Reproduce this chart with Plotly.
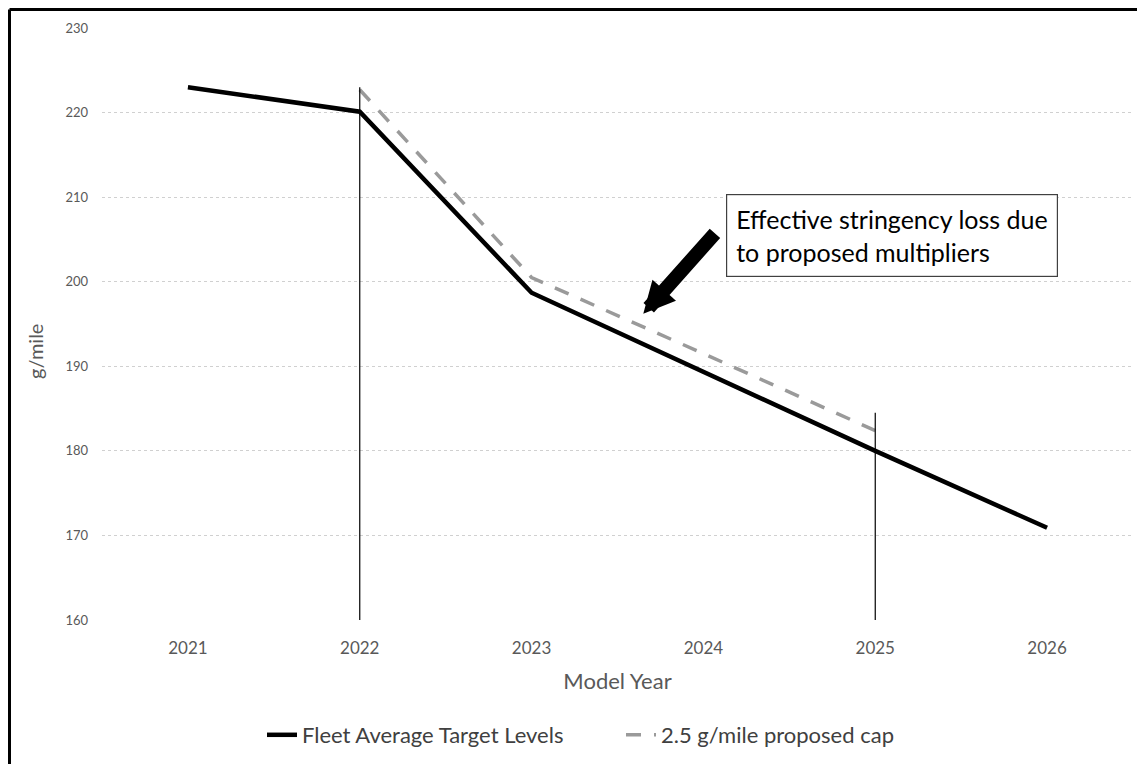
import plotly.graph_objects as go

years = ["2021", "2022", "2023", "2024", "2025", "2026"]
fleet_avg = [223.0, 220.1, 198.7, 189.3, 180.0, 170.9]
cap_years = ["2022", "2023", "2024", "2025"]
cap_values = [222.7, 200.5, 191.5, 182.4]
y_ticks = [160, 170, 180, 190, 200, 210, 220, 230]
marker_years = ["2022", "2025"]
marker_tops = [223.0, 184.5]

FONT = "Lato"
GRAY = "#595959"
W, H = 1145, 764
ML, MR, MT, MB = 94, 20, 20, 152
PW, PH = W - ML - MR, H - MT - MB

fig = go.Figure()
fig.add_trace(go.Scatter(
    x=years, y=fleet_avg, mode="lines", name="Fleet Average Target Levels",
    line=dict(color="black", width=4.5),
))
fig.add_trace(go.Scatter(
    x=cap_years, y=cap_values, mode="lines", name="2.5 g/mile proposed cap",
    line=dict(color="#9a9a9a", width=3.5, dash="15px,13px"),
))

for yr, top in zip(marker_years, marker_tops):
    xi = years.index(yr)
    fig.add_shape(type="line", xref="x", yref="y", x0=xi, x1=xi, y0=y_ticks[0], y1=top,
                  line=dict(color="black", width=1.2), layer="above")

# outer border (top and left edges of the figure)
bx = (1.5 - ML) / PW
by = 1 + (MT - 1.5) / PH
fig.add_shape(type="line", xref="paper", yref="paper", x0=bx, x1=1 + MR / PW, y0=by, y1=by,
              line=dict(color="black", width=3))
fig.add_shape(type="line", xref="paper", yref="paper", x0=bx, x1=bx, y0=by, y1=-MB / PH,
              line=dict(color="black", width=3))

fig.add_annotation(
    xref="paper", yref="paper", x=(726 - 8 - ML) / PW, y=1 - (235 - 8 - MT) / PH,
    xanchor="left", yanchor="middle",
    text="Effective stringency loss due<br>to proposed multipliers",
    showarrow=False, align="left",
    font=dict(family=FONT, size=25, color="black"),
    bordercolor="#404040", borderwidth=1.2, borderpad=9, bgcolor="white",
)
fig.add_annotation(
    xref="x", yref="y", x=2.65, y=196.2, text="", showarrow=True,
    ax=73, ay=-82, arrowhead=2, arrowsize=0.45, arrowwidth=14, arrowcolor="black",
)
# y-axis title
fig.add_annotation(
    xref="paper", yref="paper", x=(35 - 8 - ML) / PW, y=1 - (352 - 8 - MT) / PH,
    xanchor="center", yanchor="middle", text="g/mile", textangle=-90, showarrow=False,
    font=dict(family=FONT, size=20, color=GRAY),
)

fig.update_layout(
    width=W, height=H,
    margin=dict(l=ML, r=MR, t=MT, b=MB),
    paper_bgcolor="white", plot_bgcolor="white",
    font=dict(family=FONT, color=GRAY),
    showlegend=True,
    legend=dict(orientation="h", x=(259 - ML - 5) / PW, xanchor="left",
                y=-(735 - 8 - MT - PH) / PH, yanchor="middle",
                font=dict(family=FONT, size=22, color="#404040"),
                entrywidth=314, entrywidthmode="pixels", tracegroupgap=0),
    xaxis=dict(
        range=[-0.5, 5.5], tickvals=list(range(len(years))), ticktext=years,
        showgrid=False, zeroline=False, showline=False,
        tickfont=dict(family=FONT, size=17, color=GRAY), ticks="",
        ticklabelstandoff=16,
        title=dict(text="Model Year", font=dict(family=FONT, size=22, color=GRAY), standoff=16),
    ),
    yaxis=dict(
        range=[160, 230], tickvals=y_ticks, showgrid=True, gridcolor="#d0d0d0", gridwidth=1,
        griddash="dot", zeroline=False, showline=False,
        tickfont=dict(family=FONT, size=13, color=GRAY), ticks="", ticklabelstandoff=13,
    ),
)

fig.write_html("out.html")
